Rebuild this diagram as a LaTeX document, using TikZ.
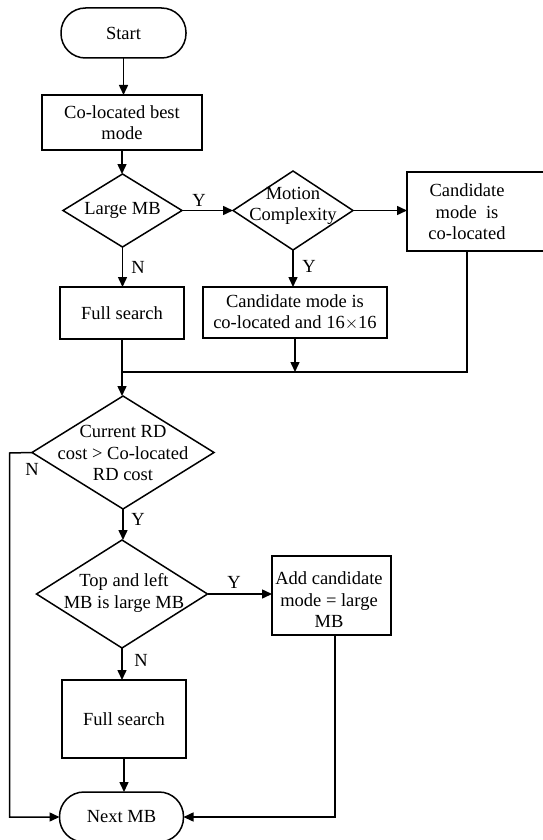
\documentclass[tikz,border=0pt]{standalone}
\usepackage{fontspec}
\setmainfont{Liberation Serif}
\usetikzlibrary{shapes.geometric,arrows.meta}
\begin{document}
\begin{tikzpicture}[x=1pt,y=-1pt,
  every node/.style={font=\fontsize{18.5}{21.5}\selectfont, inner sep=0pt, outer sep=0pt},
  ln/.style={line width=1.5pt},
  arr/.style={line width=1.5pt, -{Triangle[length=10pt,width=9pt]}},
  proc/.style={draw, line width=1.5pt, align=center},
  term/.style={draw, line width=1.5pt, rounded corners=24.5pt, align=center},
  dec/.style={draw, line width=1.5pt, diamond},
  txt/.style={align=center},
  yn/.style={font=\fontsize{18.5}{21.5}\selectfont}]
\useasboundingbox (0,0) rectangle (542,840);
% nodes
\node[term, minimum width=125pt, minimum height=50pt] (start) at (123.5,33) {Start};
\node[proc, minimum width=160pt, minimum height=55pt] (colo) at (122,122.5) {Co-located best\\mode};
\node[dec, minimum width=119pt, minimum height=73pt] (large) at (122.5,210.5) {};
\node[txt] (larget) at (large) {Large MB};
\node[dec, minimum width=120pt, minimum height=79pt] (motion) at (293,210.5) {};
\node[txt] (motiont) at (293,206) {Motion\\Complexity};
\node[proc, minimum width=138pt, minimum height=79pt] (cand) at (476,211.5) {};
\node[txt] (candt) at (467,212) {Candidate\\mode\ \ is\\co-located};
\node[proc, minimum width=124pt, minimum height=52pt] (full1) at (122,313) {Full search};
\node[proc, minimum width=184pt, minimum height=51pt] (c16) at (295,312.5) {Candidate mode is\\co-located and 16$\times$16};
\coordinate (merge) at (122,372);
\node[dec, minimum width=182pt, minimum height=113pt] (rd) at (123,452.5) {};
\node[txt] (rdt) at (123,453) {Current RD\\cost > Co-located\\RD cost};
\node[dec, minimum width=171pt, minimum height=108pt] (tl) at (122,594) {};
\node[txt] (tlt) at (124,593) {Top and left\\MB is large MB};
\node[proc, minimum width=119pt, minimum height=79pt] (add) at (331.5,595.5) {};
\node[txt] (addt) at (329,600) {Add candidate\\mode = large\\MB};
\node[proc, minimum width=124pt, minimum height=78pt] (full2) at (124,719) {Full search};
\node[term, minimum width=124pt, minimum height=50pt] (next) at (121.5,817) {Next MB};
\coordinate (loop) at (9.5,453);
% labels
\node[yn] (ly1) at (199,200) {Y};
\node[yn] (ln1) at (138,267) {N};
\node[yn] (ly2) at (309,266) {Y};
\node[yn] (ln2) at (32,469) {N};
\node[yn] (ly3) at (138,519) {Y};
\node[yn] (ly4) at (234,582) {Y};
\node[yn] (ln3) at (141,660) {N};
% connectors
\draw[arr] (start.south) -- (start.south |- colo.north);
\draw[arr] (colo.south) -- (colo.south |- large.north);
\draw[arr] (large.east) -- (motion.west);
\draw[arr] (motion.east) -- (motion.east -| cand.west);
\draw[arr] (large.south) -- (large.south |- full1.north);
\draw[arr] (motion.south) -- (motion.south |- c16.north);
\draw[arr] (c16.south) -- (c16.south |- merge);
\draw[ln] (candt |- cand.south) |- (merge);
\draw[arr] (full1.south) -- (full1.south |- rd.north);
\draw[arr] (rd.west) -- (loop) |- (next.west);
\draw[arr] (rd.south) -- (rd.south |- tl.north);
\draw[arr] (tl.east) -- (tl.east -| add.west);
\draw[arr] (tl.south) -- (tl.south |- full2.north);
\draw[arr] (full2.south) -- (full2.south |- next.north);
\draw[arr] (add.south -| 335,0) |- (next.east);
\end{tikzpicture}
\end{document}
